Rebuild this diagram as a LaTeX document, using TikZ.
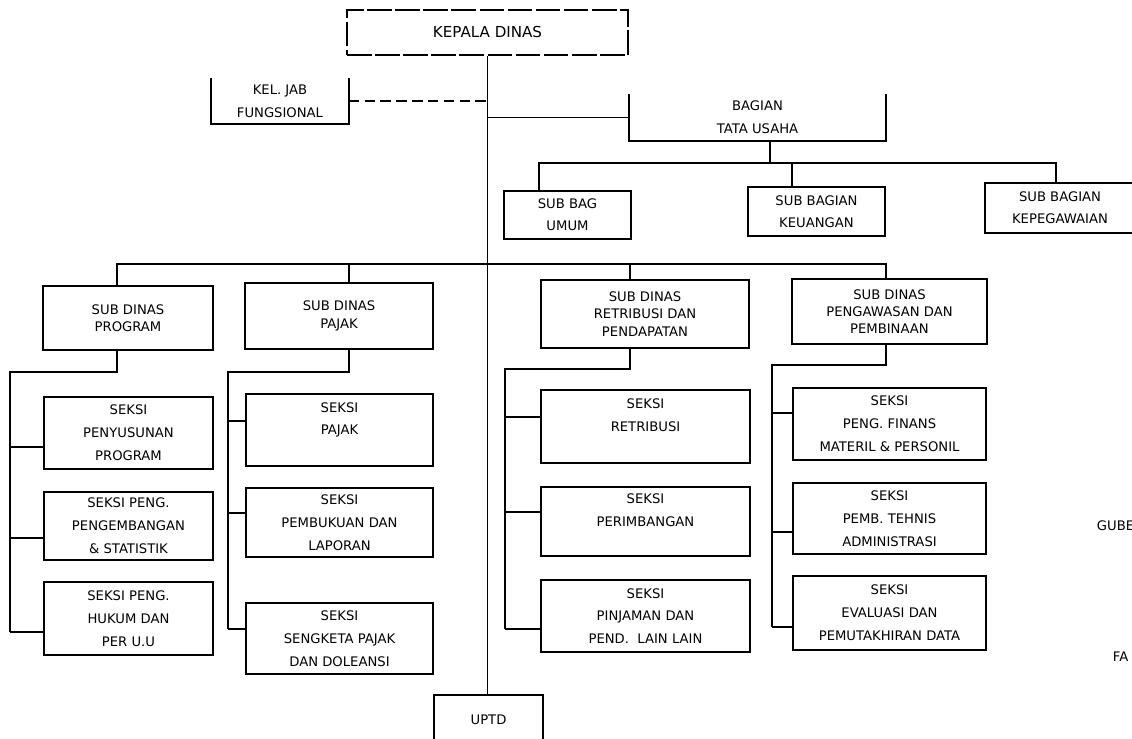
\documentclass[tikz,border=0pt]{standalone}
\usepackage{fontspec}
\setmainfont{DejaVu Sans}

\begin{document}
\begin{tikzpicture}[x=0.02cm, y=-0.02cm, line width=1pt,
    box/.style={draw, align=center, inner sep=0pt, font=\fontsize{7.5}{13}\selectfont},
    opentop/.style={box, draw=none},
    subbag/.style={box, font=\fontsize{7.5}{12.5}\selectfont},
    subdinas/.style={box, font=\fontsize{7.5}{9.8}\selectfont},
    ]
    \useasboundingbox (0,0) rectangle (1132,739);

    % top of the chart
    \node[box, dash pattern=on 14pt off 2pt, font=\fontsize{8.6}{10}\selectfont,
        minimum width=5.62cm, minimum height=0.9cm] (kadis) at (487.5,32.5) {KEPALA DINAS};
    \node[opentop, minimum width=2.72cm, minimum height=0.88cm] (keljab) at (280,101) {KEL. JAB\\FUNGSIONAL};
    \node[opentop, minimum width=5.1cm, minimum height=0.9cm] (bagian) at (757.5,117.5) {BAGIAN\\TATA USAHA};
    \draw (keljab.north west) |- (keljab.south east) -- (keljab.north east);
    \draw (bagian.north west) |- (bagian.south east) -- (bagian.north east);

    \node[subbag, minimum width=2.54cm, minimum height=0.96cm] (umum) at (567.5,215) {SUB BAG\\UMUM};
    \node[subbag, minimum width=2.74cm, minimum height=0.98cm] (keuangan) at (816.5,211.5) {SUB BAGIAN\\KEUANGAN};
    \node[subbag, minimum width=3cm, minimum height=1cm] (kepeg) at (1060,208) {SUB BAGIAN\\KEPEGAWAIAN};

    \node[subdinas, minimum width=3.4cm, minimum height=1.28cm] (sdprogram) at (128,318) {SUB DINAS\\PROGRAM};
    \node[subdinas, minimum width=3.76cm, minimum height=1.32cm] (sdpajak) at (339,316) {SUB DINAS\\PAJAK};
    \node[subdinas, minimum width=4.16cm, minimum height=1.36cm] (sdretribusi) at (645,314) {SUB DINAS\\RETRIBUSI DAN\\PENDAPATAN};
    \node[subdinas, minimum width=3.9cm, minimum height=1.3cm] (sdpengawasan) at (889.5,311.5) {SUB DINAS\\PENGAWASAN DAN\\PEMBINAAN};

    \node[box, minimum width=2.18cm, minimum height=1cm] (uptd) at (488.5,720) {UPTD};

    % seksi, one column under each sub dinas
    \foreach \n/\x/\y/\w/\h/\t in {
        s11/128.5/433/3.38/1.44/{SEKSI\\PENYUSUNAN\\PROGRAM},
        s12/128.5/526/3.38/1.36/{SEKSI PENG.\\PENGEMBANGAN\\\& STATISTIK},
        s13/128.5/618.5/3.38/1.46/{SEKSI PENG.\\HUKUM DAN\\PER U.U},
        s21/339.5/430/3.74/1.44/{SEKSI\\PAJAK\\\mbox{}},
        s22/339.5/522.5/3.74/1.38/{SEKSI\\PEMBUKUAN DAN\\LAPORAN},
        s23/339.5/638.5/3.74/1.42/{SEKSI\\SENGKETA PAJAK\\DAN DOLEANSI},
        s31/645.5/426.5/4.18/1.46/{SEKSI\\RETRIBUSI\\\mbox{}},
        s32/645.5/521.5/4.18/1.38/{SEKSI\\PERIMBANGAN\\\mbox{}},
        s33/645.5/616/4.18/1.44/{SEKSI\\PINJAMAN DAN\\PEND.\ \ LAIN LAIN},
        s41/889.5/424/3.86/1.44/{SEKSI\\PENG. FINANS\\MATERIL \& PERSONIL},
        s42/889.5/518.5/3.86/1.42/{SEKSI\\PEMB. TEHNIS\\ADMINISTRASI},
        s43/889.5/613/3.86/1.48/{SEKSI\\EVALUASI DAN\\PEMUTAKHIRAN DATA}}
        \node[box, minimum width=\w cm, minimum height=\h cm] (\n) at (\x,\y) {\t};

    \node[inner sep=0pt, anchor=west, font=\fontsize{7.5}{9}\selectfont] (gube) at (1096,526) {GUBE};
    \node[inner sep=0pt, anchor=west, font=\fontsize{7.5}{9}\selectfont] (fa) at (1112,657) {FA};

    % connectors
    \draw (kadis.south) -- (kadis.south |- uptd.north);
    \draw[dash pattern=on 6pt off 3pt] (keljab.east) -- (keljab.east -| kadis.south);
    \draw (bagian.west) -- (bagian.west -| kadis.south);

    \draw (770,0 |- bagian.south) -- (770,163);
    \draw (539,0 |- umum.north) -- (539,163) -- (1056,163) -- (1056,0 |- kepeg.north);
    \draw (792,163) -- (792,0 |- keuangan.north);

    \draw (117,0 |- sdprogram.north) -- (117,264) -- (886,264) -- (886,0 |- sdpengawasan.north);
    \draw (349,264) -- (349,0 |- sdpajak.north);
    \draw (630,264) -- (630,0 |- sdretribusi.north);

    \draw (117,0 |- sdprogram.south) -- (117,372) -- (10,372) -- (10,632);
    \foreach \n/\y in {s11/447, s12/538, s13/632}
        \draw (10,\y) -- (\n.west |- 0,\y);
    \draw (349,0 |- sdpajak.south) -- (349,372) -- (228,372) -- (228,629);
    \foreach \n/\y in {s21/421, s22/513, s23/629}
        \draw (228,\y) -- (\n.west |- 0,\y);
    \draw (630,0 |- sdretribusi.south) -- (630,369) -- (505,369) -- (505,629);
    \foreach \n/\y in {s31/417, s32/512, s33/629}
        \draw (505,\y) -- (\n.west |- 0,\y);
    \draw (886,0 |- sdpengawasan.south) -- (886,365) -- (772,365) -- (772,627);
    \foreach \n/\y in {s41/413, s42/532, s43/627}
        \draw (772,\y) -- (\n.west |- 0,\y);
\end{tikzpicture}
\end{document}
